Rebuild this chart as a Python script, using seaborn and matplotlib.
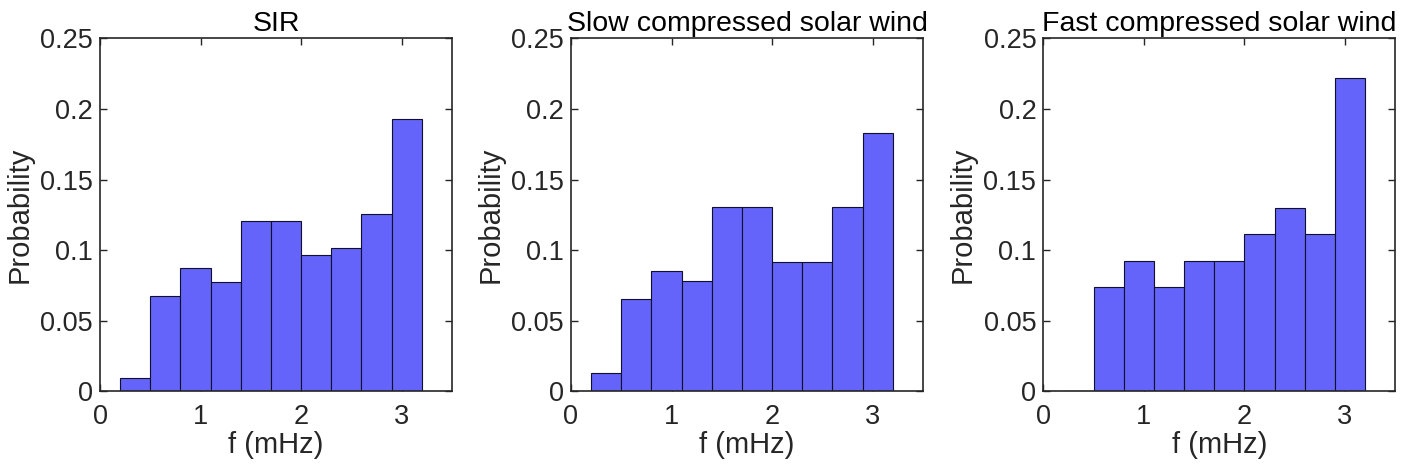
import numpy as np
import pandas as pd
import matplotlib
matplotlib.use("Agg")
import matplotlib.pyplot as plt
import seaborn as sns

# Data
bin_edges = [0.2, 0.5, 0.8, 1.1, 1.4, 1.7, 2.0, 2.3, 2.6, 2.9, 3.2]
titles = ["SIR", "Slow compressed solar wind", "Fast compressed solar wind"]
sir_prob = [0.0097, 0.0676, 0.0870, 0.0773, 0.1208, 0.1208, 0.0966, 0.1014, 0.1256, 0.1932]
slow_prob = [0.0131, 0.0654, 0.0850, 0.0784, 0.1307, 0.1307, 0.0915, 0.0915, 0.1307, 0.1830]
fast_prob = [0.0, 0.0741, 0.0926, 0.0741, 0.0926, 0.0926, 0.1111, 0.1296, 0.1111, 0.2222]
x_ticks = [0, 1, 2, 3]
y_ticks = [0, 0.05, 0.1, 0.15, 0.2, 0.25]
y_ticklabels = ["0", "0.05", "0.1", "0.15", "0.2", "0.25"]
x_label = "f (mHz)"
y_label = "Probability"

sns.set_style("white")
plt.rcParams["font.family"] = ["Liberation Sans", "DejaVu Sans"]

fig = plt.figure(figsize=(14.17, 4.76), dpi=100)
lefts = [100 / 1417, 571 / 1417, 1043.3 / 1417]
width = 352 / 1417
bottom = 1 - 391.3 / 476
height = 353 / 476

edges = np.array(bin_edges)
centers = (edges[:-1] + edges[1:]) / 2
axis_col = "#262626"
fs_tick = 19.5
fs_lab = 21
fs_title = 20.5

for left, title, probs in zip(lefts, titles, [sir_prob, slow_prob, fast_prob]):
    ax = fig.add_axes([left, bottom, width, height])
    df = pd.DataFrame({"f": centers, "p": probs})
    sns.histplot(data=df, x="f", weights="p", bins=list(bin_edges), ax=ax,
                 color="#6464fa", alpha=1.0, edgecolor="#10102a", linewidth=0.8)
    ax.set_xlim(0, 3.5)
    ax.set_ylim(0, 0.25)
    ax.set_xticks(x_ticks)
    ax.set_yticks(y_ticks)
    ax.set_yticklabels(y_ticklabels)
    ax.tick_params(direction="in", length=5, width=1.0, colors=axis_col,
                   labelsize=fs_tick, top=True, right=True, bottom=True, left=True,
                   labelcolor="#262626", pad=5)
    ax.tick_params(axis="x", pad=9)
    for s in ax.spines.values():
        s.set_visible(True)
        s.set_color(axis_col)
        s.set_linewidth(1.2)
    ax.set_xlabel(x_label, fontsize=fs_lab, color="#262626", labelpad=1)
    ax.set_ylabel(y_label, fontsize=fs_lab, color="#262626", labelpad=5)
    ax.set_title(title, fontsize=fs_title, color="black", pad=5)

fig.savefig("out.png", dpi=100)
